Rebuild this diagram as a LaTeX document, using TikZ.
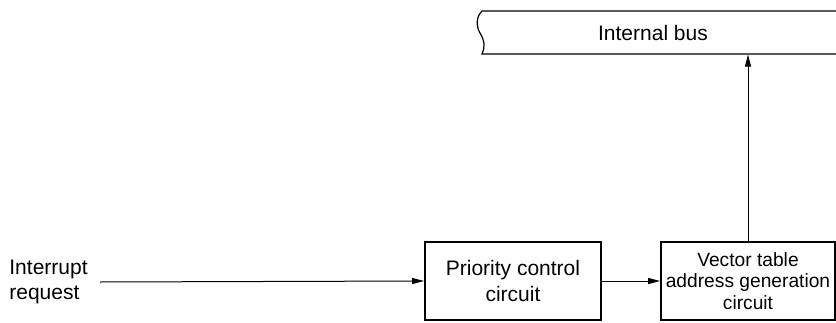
\documentclass[tikz,border=0pt]{standalone}
\usepackage{fontspec}
\setmainfont{Liberation Sans}
\usetikzlibrary{arrows.meta}
\begin{document}
\begin{tikzpicture}[x=0.5pt,y=-0.5pt,
  blockbox/.style={draw,line width=0.9pt,rectangle,inner sep=0pt,align=center},
  conn/.style={line width=0.5pt,-{Triangle[length=6pt,width=3pt]}},
  lbl/.style={font=\fontsize{10.5}{12.75}\selectfont}]
\useasboundingbox (0,0) rectangle (836,322);
% internal bus
\draw[line width=0.6pt] (836,11) -- (482,11)
  .. controls (476,17) and (476,26) .. (480,33)
  .. controls (485,41) and (485,48) .. (482,54) -- (836,54);
\node[lbl] (bus) at (653,33) {Internal bus};
\coordinate (busbot) at (748,54.5);
% blocks
\node[blockbox,minimum width=88pt,minimum height=39pt,lbl] (prio) at (513,281) {Priority control\\circuit};
\node[blockbox,minimum width=87pt,minimum height=39pt,font=\fontsize{9.6}{10.6}\selectfont] (vec) at (748,281) {Vector table\\address generation\\circuit};
\node[lbl,anchor=west,align=left,inner sep=0pt] (irq) at (9,282) {Interrupt\\request};
\coordinate (irqstart) at (100,282);
% connectors
\draw[conn] (irqstart) -- (prio.west);
\draw[conn] (prio.east) -- (vec.west);
\draw[conn] (vec.north) -- (busbot);
\end{tikzpicture}
\end{document}
